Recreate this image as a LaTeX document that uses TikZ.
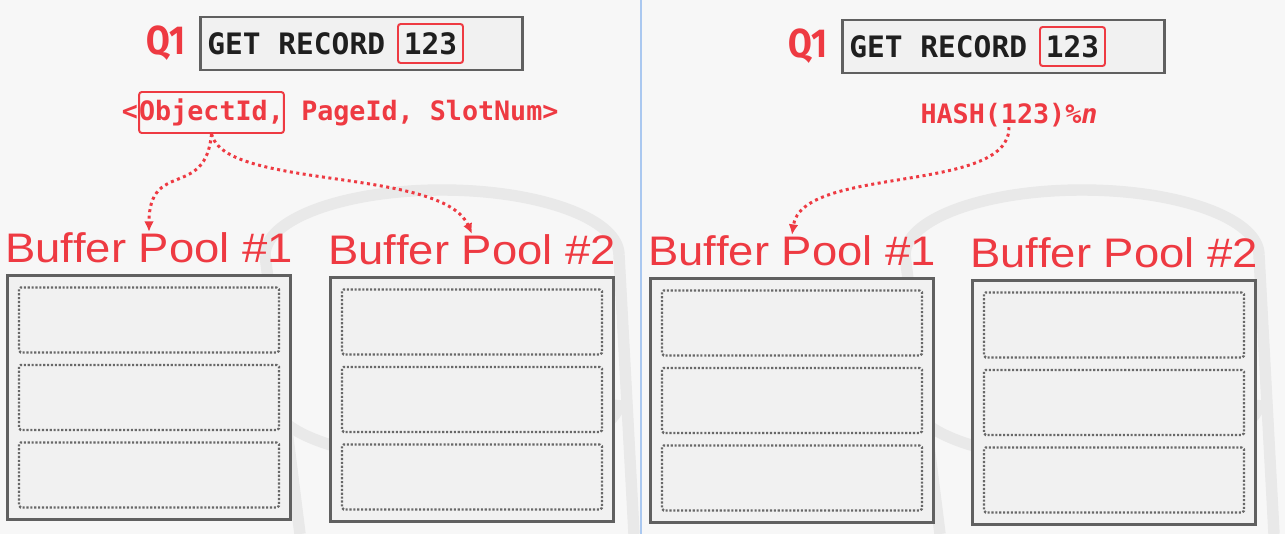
\documentclass[tikz,border=0pt]{standalone}
\usepackage{fontspec}
\setmainfont{Liberation Sans}
\setmonofont{DejaVu Sans Mono}
\newfontfamily\poolfont[FakeStretch=1.1, RawFeature=-liga]{Liberation Sans}
\newfontfamily\qfont[FakeStretch=0.85]{Fira Sans}
\usetikzlibrary{arrows.meta,positioning,calc}
\definecolor{slideRed}{RGB}{238,58,66}
\definecolor{boxGray}{RGB}{96,96,96}
\definecolor{slotGray}{RGB}{104,104,104}
\definecolor{pageBg}{RGB}{247,247,247}
\definecolor{boxFill}{RGB}{241,241,241}
\definecolor{markGray}{RGB}{233,233,233}
\definecolor{sepBlue}{RGB}{170,200,240}
\tikzset{
  qbox/.style={draw=boxGray, fill=boxFill, line width=1.7pt, minimum width=6.46cm, minimum height=1.06cm, inner sep=0pt},
  cmdtext/.style={inner sep=0pt, text=black!88, font=\ttfamily\bfseries\fontsize{16.8}{18}\selectfont},
  keybox/.style={cmdtext, draw=slideRed, line width=1.1pt, rounded corners=1.5pt, minimum width=1.3cm, minimum height=0.78cm},
  qlabel/.style={inner sep=0pt, text=slideRed, font=\qfont\bfseries\fontsize{23}{26}\selectfont},
  idtext/.style={inner sep=0pt, text=slideRed, font=\ttfamily\bfseries\fontsize{15.2}{17}\selectfont},
  idbox/.style={idtext, draw=slideRed, line width=1.1pt, rounded corners=1.5pt, minimum height=0.82cm},
  poolbox/.style={draw=boxGray, fill=boxFill, line width=1.7pt, minimum width=5.68cm, minimum height=4.9cm, inner sep=0pt},
  slotbox/.style={draw=slotGray, line width=1.3pt, dash pattern=on 1.2pt off 1.0pt, minimum width=5.2cm, minimum height=1.3cm, rounded corners=1pt},
  poolname/.style={inner sep=0pt, text=slideRed, font=\poolfont\fontsize{23.5}{26}\selectfont},
  hop/.style={draw=slideRed, line width=1.7pt, dash pattern=on 1.7pt off 2pt, -{Latex[length=6pt,width=5.5pt]}},
  markln/.style={draw=markGray, line width=6.5pt},
  sepline/.style={draw=sepBlue, line width=1.5pt},
}
% one buffer pool: name, centre x, centre y
\newcommand{\bufpool}[3]{%
  \node[poolbox] (#1) at (#2,#3) {};
  \foreach \dy/\k in {-77.5/a,0/b,77.5/c}
    \node[slotbox] (#1\k) at (#2,#3+\dy) {};
}

\begin{document}
\begin{tikzpicture}[x=0.02cm, y=-0.02cm]
  \useasboundingbox (0,0) rectangle (1285,534);
  \fill[pageBg] (0,0) rectangle (1285,534);
  % faint database watermark
  \foreach \ox in {0,640}{
    \draw[markln] (\ox+265,255) arc[start angle=180, end angle=360, x radius=177, y radius=65];
    \draw[markln] (\ox+619,255) -- (\ox+634,534);
    \draw[markln] (\ox+265,255) -- (\ox+300,534);
    \draw[markln] (\ox+272,400) arc[start angle=180, end angle=0, x radius=174, y radius=60];
  }
  \draw[sepline] (641,0) -- (641,534);

  % left: record id
  \node[qbox] (query) at (361.5,43.5) {};
  \node[cmdtext, anchor=west] (cmd) at (207,44) {GET RECORD};
  \node[keybox] (num) at (430.5,43.5) {123};
  \node[qlabel, left=7pt of query] (qone) {Q1};
  \node[idbox] (obj) at (211.5,112.5) {ObjectId,};
  \node[idtext, base left=0pt of obj] (lt) {<};
  \node[idtext, base right=0pt of obj] (rest) {~PageId, SlotNum>};
  \bufpool{poolA}{149}{397.5}
  \bufpool{poolB}{472}{399.5}
  \node[poolname, above=6pt of poolA] (nameA) {Buf\kern0pt fer Pool \#1};
  \node[poolname, above=6pt of poolB] (nameB) {Buf\kern0pt fer Pool \#2};
  \draw[hop] (obj.south) .. controls +(-6,66) and +(0,-73) .. (nameA.north);
  \draw[hop] (obj.south) .. controls +(13,56) and +(-30,-67) .. (nameB.north);

  % right: hashing
  \node[qbox] (rquery) at (1003.5,46.5) {};
  \node[cmdtext, anchor=west] (rcmd) at (849,47) {GET RECORD};
  \node[keybox] (rnum) at (1072.5,46.5) {123};
  \node[qlabel, left=7pt of rquery] (rqone) {Q1};
  \node[idtext] (hash) at (1009,115) {HASH(123)\%\textit{n}};
  \bufpool{poolC}{792}{400.5}
  \bufpool{poolD}{1114}{402.5}
  \node[poolname, above=6pt of poolC] (nameC) {Buf\kern0pt fer Pool \#1};
  \node[poolname, above=6pt of poolD] (nameD) {Buf\kern0pt fer Pool \#2};
  \draw[hop] (hash.south) .. controls +(1,67) and +(10,-70) .. (nameC.north);
\end{tikzpicture}
\end{document}
